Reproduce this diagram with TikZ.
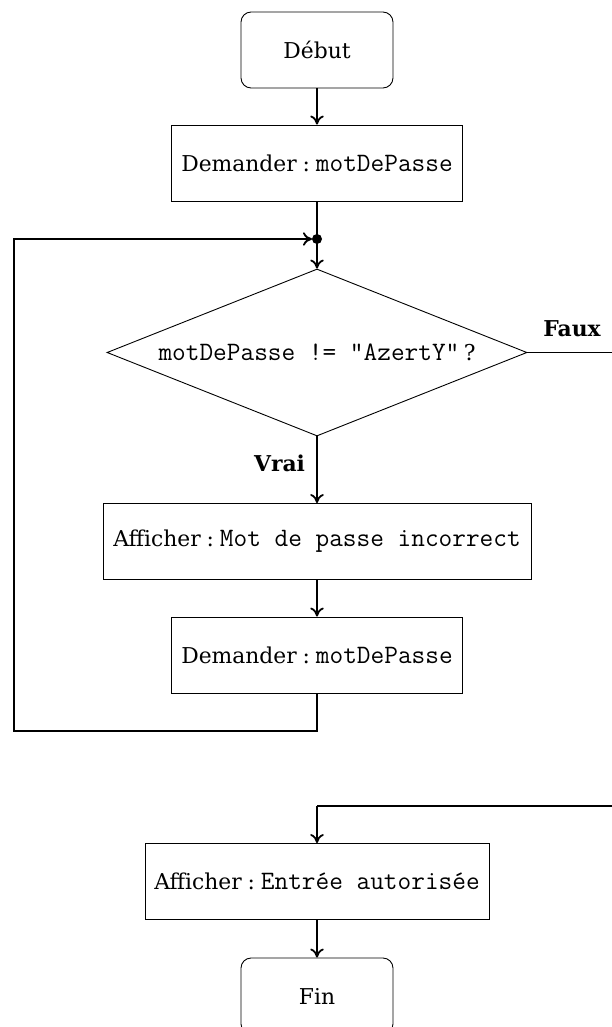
\documentclass[tikz,border=0pt]{standalone}
\usepackage{fontspec}
\setmainfont{DejaVu Serif}[Scale=0.97]
\usetikzlibrary{shapes.geometric,arrows.meta}
\newdimen\pxu
\pxu=0.4444pt
\newcommand\mytt[1]{{\fontsize{11.8}{14}\selectfont\ttfamily #1}}
\newcommand\mycolon{\hspace{0.27em}:\hspace{0.27em}}
\tikzset{
  base/.style={draw, line width=0.4pt, inner sep=2pt, align=center, font=\normalsize},
  termbox/.style={base, rectangle, rounded corners=4.5pt, minimum width=152\pxu, minimum height=76\pxu},
  procbox/.style={base, rectangle, minimum height=76\pxu},
  decbox/.style={base, diamond, aspect=2.5, inner sep=0pt, minimum width=420\pxu, minimum height=167\pxu},
  conn/.style={line width=0.8pt},
  arr/.style={conn, -{To[length=4pt,width=6pt]}},
  lbl/.style={font=\bfseries, inner sep=0pt},
}
\begin{document}
\begin{tikzpicture}[x=0.4444pt, y=-0.4444pt]
\path[use as bounding box, clip] (0,0) rectangle (612,1027);
\node[termbox] (debut) at (317,50) {Début};
\node[procbox, minimum width=291\pxu] (dem1) at (317,163) {Demander\mycolon\mytt{motDePasse}};
\coordinate (j) at (317,239);
\node[decbox] (test) at (317,352.5) {};
\node at (317,352.5) {\mytt{motDePasse != "AzertY"}\hspace{0.2em}?};
\node[procbox, minimum width=428\pxu] (aff1) at (317,541.5) {Afficher\mycolon\mytt{Mot de passe incorrect}};
\node[procbox, minimum width=291\pxu] (dem2) at (317,655) {Demander\mycolon\mytt{motDePasse}};
\node[procbox, minimum width=344\pxu] (aff2) at (317,881.5) {Afficher\mycolon\mytt{Entrée autorisée}};
\node[termbox] (fin) at (317,996) {Fin};
\node[lbl] (faux) at (572,329) {Faux};
\node[lbl] (vrai) at (279.5,463) {Vrai};
\coordinate (l1) at (14,731);
\coordinate (l2) at (14,239);
\coordinate (r1) at (660,352.5);
\coordinate (r2) at (660,806);
\coordinate (r3) at (317,806);

\draw[arr] (debut) -- (dem1);
\draw[conn] (dem1) -- (j);
\draw[arr] (j) -- (test.north);
\fill (j) circle (5);
\draw[arr] (test.south) -- (aff1);
\draw[arr] (aff1) -- (dem2);
\draw[arr] (dem2.south) |- (l1) -- (l2) -- ([xshift=-5\pxu]j);
\draw[conn] (test.east) -- (r1) -- (r2) -- (r3);
\draw[arr] (r3) -- (aff2);
\draw[arr] (aff2) -- (fin);
\end{tikzpicture}
\end{document}
